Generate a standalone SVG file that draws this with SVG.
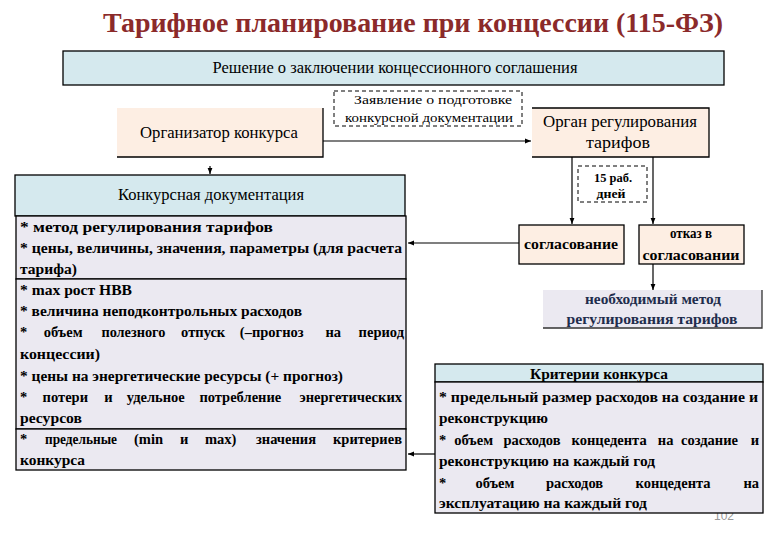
<svg xmlns="http://www.w3.org/2000/svg" width="780" height="540" viewBox="0 0 780 540">
<style>
.b{font-weight:bold}
.box{stroke:#000;stroke-width:1.3}
.peach{fill:#fdeee3}
.blue{fill:#d5e9ee}
.lav{fill:#ebe9f1}
.dash{fill:#fff;stroke:#000;stroke-width:1;stroke-dasharray:4,3}
.c{stroke:#000;stroke-width:1.2;fill:none}
</style>
<defs>
<marker id="ah" viewBox="0 0 10 10" refX="10" refY="5" markerWidth="6" markerHeight="6" orient="auto" markerUnits="userSpaceOnUse">
<path d="M0,1 L10,5 L0,9 z" fill="#000"/>
</marker>
</defs>
<rect width="780" height="540" fill="#fff"/>
<g font-family="Liberation Serif, Times New Roman, serif" fill="#000">
<text class="b" x="413" y="32" font-size="28" text-anchor="middle" fill="#8b2a2a" textLength="620" lengthAdjust="spacingAndGlyphs">Тарифное планирование при концессии (115-ФЗ)</text>

<text x="724" y="520" font-family="Liberation Sans, Arial, sans-serif" font-size="12" fill="#999" text-anchor="middle">102</text>

<g id="connectors">
<line class="c" x1="323" y1="141" x2="531" y2="141" marker-end="url(#ah)"/>
<line class="c" x1="210" y1="166" x2="210" y2="174" marker-end="url(#ah)"/>
<line class="c" x1="572" y1="157" x2="572" y2="224" marker-end="url(#ah)"/>
<line class="c" x1="653" y1="157" x2="653" y2="224" marker-end="url(#ah)"/>
<line class="c" x1="519" y1="243" x2="408" y2="243" marker-end="url(#ah)"/>
<line class="c" x1="653" y1="264" x2="653" y2="290" marker-end="url(#ah)"/>
<line class="c" x1="435" y1="454" x2="408" y2="454" marker-end="url(#ah)"/>
</g>

<g id="decision">
<rect class="box blue" x="63" y="51" width="661" height="34"/>
<text x="395" y="73" font-size="16" text-anchor="middle" textLength="365" lengthAdjust="spacingAndGlyphs">Решение о заключении концессионного соглашения</text>
</g>

<g id="organizer">
<rect class="peach" x="117" y="108" width="206" height="49"/>
<polyline points="117,157 323,157 323,108" fill="none" stroke="#000" stroke-width="1.3"/>
<text x="219" y="138" font-size="16.5" text-anchor="middle" textLength="158" lengthAdjust="spacingAndGlyphs">Организатор конкурса</text>
</g>

<g id="application">
<rect class="dash" x="334" y="91" width="188" height="35"/>
<text x="433" y="104" font-size="13" text-anchor="middle" textLength="158" lengthAdjust="spacingAndGlyphs">Заявление о подготовке</text>
<text x="429" y="122" font-size="13" text-anchor="middle" textLength="168" lengthAdjust="spacingAndGlyphs">конкурсной документации</text>
</g>

<g id="regulator">
<rect class="peach" x="532" y="108" width="177" height="49"/>
<polyline points="532,108 709,108 709,157 532,157" fill="none" stroke="#000" stroke-width="1.3"/>
<text x="620" y="127" font-size="16.5" text-anchor="middle" textLength="154" lengthAdjust="spacingAndGlyphs">Орган регулирования</text>
<text x="618" y="148" font-size="16.5" text-anchor="middle" textLength="64" lengthAdjust="spacingAndGlyphs">тарифов</text>
</g>

<g id="days">
<rect class="dash" x="578" y="166" width="69" height="36"/>
<text class="b" x="613" y="182" font-size="13" text-anchor="middle" textLength="38" lengthAdjust="spacingAndGlyphs">15 раб.</text>
<text class="b" x="611" y="198" font-size="13" text-anchor="middle" textLength="29" lengthAdjust="spacingAndGlyphs">дней</text>
</g>

<g id="approval">
<rect class="box peach" x="519" y="225" width="105" height="39"/>
<text class="b" x="571" y="249" font-size="14.5" text-anchor="middle" textLength="94" lengthAdjust="spacingAndGlyphs">согласование</text>
</g>

<g id="refusal">
<rect class="box peach" x="639" y="225" width="105" height="39"/>
<text class="b" x="691" y="238" font-size="14.5" text-anchor="middle" textLength="42" lengthAdjust="spacingAndGlyphs">отказ в</text>
<text class="b" x="691" y="260" font-size="14.5" text-anchor="middle" textLength="97" lengthAdjust="spacingAndGlyphs">согласовании</text>
</g>

<g id="method">
<rect class="lav" x="543" y="290" width="219" height="38"/>
<polyline points="543,328 762,328 762,290" fill="none" stroke="#333" stroke-width="1.3"/>
<text class="b" x="653" y="304" font-size="14.5" text-anchor="middle" textLength="136" lengthAdjust="spacingAndGlyphs" fill="#1f2d4d">необходимый метод</text>
<text class="b" x="652" y="324" font-size="14.5" text-anchor="middle" textLength="171" lengthAdjust="spacingAndGlyphs" fill="#1f2d4d">регулирования тарифов</text>
</g>

<g id="documentation">
<rect class="box blue" x="15" y="175" width="390" height="41"/>
<text x="211" y="200" font-size="16.5" text-anchor="middle" textLength="186" lengthAdjust="spacingAndGlyphs">Конкурсная документация</text>
<rect class="box lav" x="16" y="216" width="390" height="63"/>
<rect class="box lav" x="16" y="279" width="390" height="150"/>
<rect class="box lav" x="16" y="429" width="390" height="41"/>
<g class="b" font-size="14.5">
<text x="20" y="232" textLength="253" lengthAdjust="spacingAndGlyphs">* метод регулирования тарифов</text>
<text x="20" y="253" textLength="382" lengthAdjust="spacingAndGlyphs">* цены, величины, значения, параметры (для расчета</text>
<text x="20" y="274" textLength="57" lengthAdjust="spacingAndGlyphs">тарифа)</text>
<text x="20" y="295" textLength="112" lengthAdjust="spacingAndGlyphs">* max рост НВВ</text>
<text x="20" y="316" textLength="282" lengthAdjust="spacingAndGlyphs">* величина неподконтрольных расходов</text>
<text x="20" y="337">*</text>
<text x="43.7" y="337">объем</text>
<text x="101.4" y="337" textLength="64" lengthAdjust="spacingAndGlyphs">полезного</text>
<text x="181.1" y="337">отпуск</text>
<text x="239.8" y="337">(–прогноз</text>
<text x="325.5" y="337">на</text>
<text x="404" y="337" text-anchor="end">период</text>
<text x="20" y="359" textLength="80" lengthAdjust="spacingAndGlyphs">концессии)</text>
<text x="20" y="381" textLength="323" lengthAdjust="spacingAndGlyphs">* цены на энергетические ресурсы (+ прогноз)</text>
<text x="20" y="402">*</text>
<text x="42.6" y="402">потери</text>
<text x="104.2" y="402">и</text>
<text x="126.8" y="402">удельное</text>
<text x="199.4" y="402">потребление</text>
<text x="402" y="402" text-anchor="end">энергетических</text>
<text x="20" y="423" textLength="62" lengthAdjust="spacingAndGlyphs">ресурсов</text>
<text x="20" y="444">*</text>
<text x="45" y="444" textLength="72" lengthAdjust="spacingAndGlyphs">предельные</text>
<text x="134" y="444">(min</text>
<text x="180" y="444">и</text>
<text x="205" y="444">max)</text>
<text x="256" y="444">значения</text>
<text x="402" y="444" text-anchor="end">критериев</text>
<text x="20" y="465" textLength="65" lengthAdjust="spacingAndGlyphs">конкурса</text>
</g>
</g>

<g id="criteria">
<rect class="box blue" x="435" y="364" width="328" height="18"/>
<text class="b" x="599" y="379" font-size="14.5" text-anchor="middle" textLength="138" lengthAdjust="spacingAndGlyphs">Критерии конкурса</text>
<rect class="box lav" x="435" y="382" width="328" height="131"/>
<g class="b" font-size="14.5">
<text x="439" y="402" textLength="319" lengthAdjust="spacingAndGlyphs">* предельный размер расходов на создание и</text>
<text x="439" y="423" textLength="109" lengthAdjust="spacingAndGlyphs">реконструкцию</text>
<text x="439" y="445">*</text>
<text x="454.2" y="445">объем</text>
<text x="503.4" y="445">расходов</text>
<text x="571.6" y="445">концедента</text>
<text x="657.8" y="445">на</text>
<text x="681" y="445">создание</text>
<text x="759" y="445" text-anchor="end">и</text>
<text x="439" y="466" textLength="216" lengthAdjust="spacingAndGlyphs">реконструкцию на каждый год</text>
<text x="439" y="488">*</text>
<text x="475.5" y="488">объем</text>
<text x="546" y="488">расходов</text>
<text x="635.5" y="488">концедента</text>
<text x="759" y="488" text-anchor="end">на</text>
<text x="439" y="508" textLength="208" lengthAdjust="spacingAndGlyphs">эксплуатацию на каждый год</text>
</g>
</g>
</g>
</svg>
